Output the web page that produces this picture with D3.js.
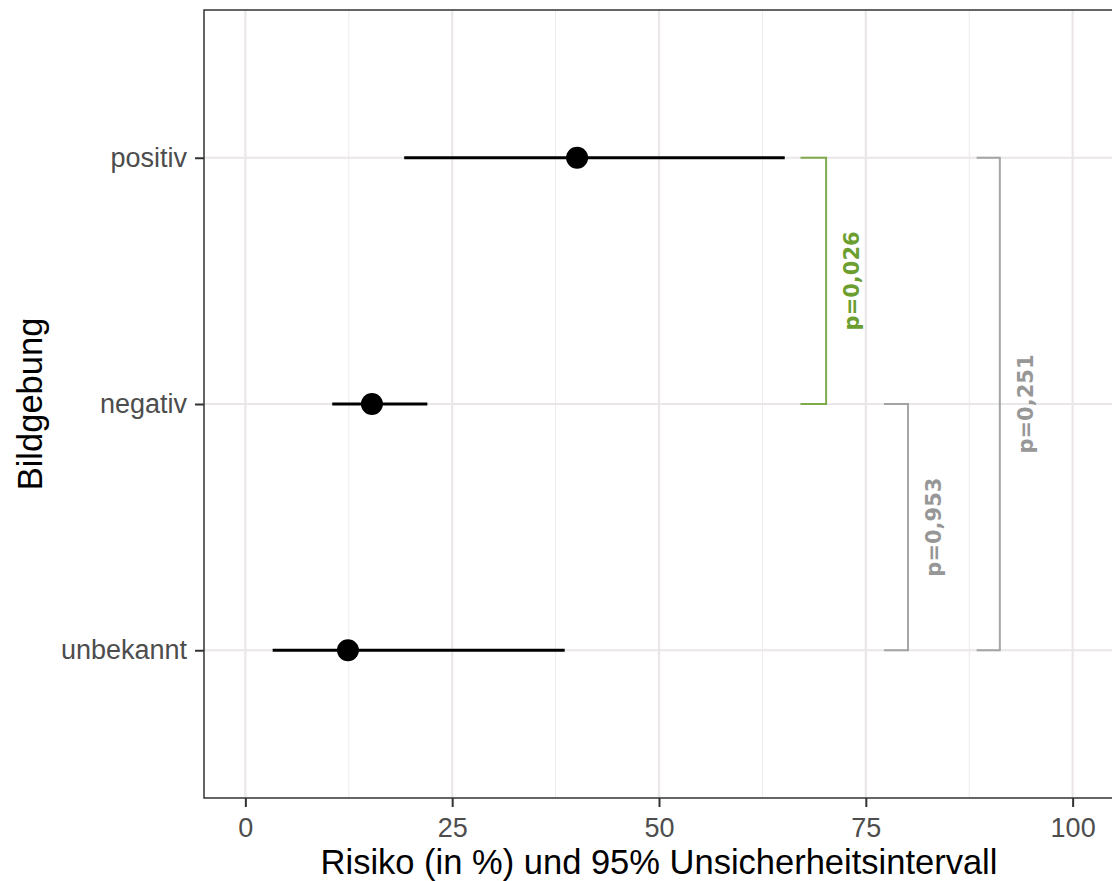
<!DOCTYPE html>
<html>
<head>
<meta charset="utf-8">
<script src="https://cdn.jsdelivr.net/npm/d3@7"></script>
<style>
  body { margin: 0; background: #fff; }
  text { font-family: "Liberation Sans", Arial, sans-serif; }
</style>
</head>
<body>
<svg id="chart" width="1112" height="881"></svg>
<script>
// data
var categories = ["positiv", "negativ", "unbekannt"];
var risk  = [40.1, 15.3, 12.4];
var lower = [19.2, 10.5, 3.3];
var upper = [65.2, 22.0, 38.6];

var xTicks = [0, 25, 50, 75, 100];
var xMinor = [12.5, 37.5, 62.5, 87.5];

// significance brackets
var bracketFrom  = ["positiv", "negativ", "positiv"];
var bracketTo    = ["negativ", "unbekannt", "unbekannt"];
var bracketX     = [70.2, 80.1, 91.2];
var bracketStart = [67.1, 77.2, 88.4];
var pLabels      = ["p=0,026", "p=0,953", "p=0,251"];
var pColors      = ["#6b9e2e", "#979797", "#979797"];

var margin = { top: 10, right: -2, bottom: 83, left: 204 },
    width = 1112 - margin.left - margin.right,
    height = 881 - margin.top - margin.bottom;

var svg = d3.select("#chart");
var g = svg.append("g")
    .attr("transform", "translate(" + margin.left + "," + margin.top + ")");

var x = d3.scaleLinear().domain([-5, 105]).range([0, width]);
var y = d3.scalePoint().domain(categories).range([0, height]).padding(0.6);

// grid
g.selectAll("line.minor").data(xMinor).enter().append("line")
    .attr("x1", d => x(d)).attr("x2", d => x(d))
    .attr("y1", 0).attr("y2", height)
    .attr("stroke", "#f0ecee").attr("stroke-width", 1.1);
g.selectAll("line.major").data(xTicks).enter().append("line")
    .attr("x1", d => x(d)).attr("x2", d => x(d))
    .attr("y1", 0).attr("y2", height)
    .attr("stroke", "#ebe6e9").attr("stroke-width", 2.2);
g.selectAll("line.ymajor").data(categories).enter().append("line")
    .attr("x1", 0).attr("x2", width)
    .attr("y1", d => y(d)).attr("y2", d => y(d))
    .attr("stroke", "#ebe6e9").attr("stroke-width", 2.2);

// intervals and points
var rows = categories.map((c, i) => ({ cat: c, risk: risk[i], lo: lower[i], hi: upper[i] }));
g.selectAll("line.ci").data(rows).enter().append("line")
    .attr("x1", d => x(d.lo)).attr("x2", d => x(d.hi))
    .attr("y1", d => y(d.cat)).attr("y2", d => y(d.cat))
    .attr("stroke", "#000").attr("stroke-width", 3);
g.selectAll("circle.pt").data(rows).enter().append("circle")
    .attr("cx", d => x(d.risk)).attr("cy", d => y(d.cat))
    .attr("r", 11).attr("fill", "#000");

// brackets
var brackets = pLabels.map((p, i) => ({
    from: bracketFrom[i], to: bracketTo[i], x: bracketX[i],
    x0: bracketStart[i], label: p, color: pColors[i]
}));
g.selectAll("path.bracket").data(brackets).enter().append("path")
    .attr("d", d => "M" + x(d.x0) + "," + y(d.from) +
        "H" + x(d.x) + "V" + y(d.to) + "H" + x(d.x0))
    .attr("fill", "none")
    .attr("stroke", d => d.color)
    .attr("stroke-width", 2)
    .attr("stroke-opacity", 0.85);
g.selectAll("text.plab").data(brackets).enter().append("text")
    .attr("transform", d => "translate(" + (x(d.x) + 26) + "," +
        ((y(d.from) + y(d.to)) / 2) + ") rotate(-90)")
    .attr("text-anchor", "middle")
    .attr("dy", "0.35em")
    .style("font-family", "'DejaVu Sans', sans-serif")
    .style("font-weight", "bold")
    .style("font-size", "21px")
    .attr("fill", d => d.color)
    .text(d => d.label);

// panel border (right edge falls outside the picture)
g.append("path")
    .attr("d", "M" + width + ",0H0V" + height + "H" + width)
    .attr("fill", "none").attr("stroke", "#333").attr("stroke-width", 1.5);

// axes
var xAxis = g.append("g")
    .attr("transform", "translate(0," + height + ")")
    .call(d3.axisBottom(x).tickValues(xTicks).tickSize(9).tickPadding(11));
xAxis.select(".domain").remove();
xAxis.selectAll("line").attr("stroke", "#333").attr("stroke-width", 2);
xAxis.selectAll("text").attr("fill", "#4d4d4d").style("font-size", "27px");

var yAxis = g.append("g")
    .call(d3.axisLeft(y).tickSize(9).tickPadding(8));
yAxis.select(".domain").remove();
yAxis.selectAll("line").attr("stroke", "#333").attr("stroke-width", 2);
yAxis.selectAll("text").attr("fill", "#4d4d4d").style("font-size", "27px");

// titles
svg.append("text")
    .attr("x", margin.left + (x(-5) + x(105)) / 2)
    .attr("y", 874)
    .attr("text-anchor", "middle")
    .style("font-size", "34.5px")
    .attr("fill", "#000")
    .text("Risiko (in %) und 95% Unsicherheitsintervall");

svg.append("text")
    .attr("transform", "translate(42," + (margin.top + height / 2) + ") rotate(-90)")
    .attr("text-anchor", "middle")
    .style("font-size", "34.5px")
    .attr("fill", "#000")
    .text("Bildgebung");
</script>
</body>
</html>
